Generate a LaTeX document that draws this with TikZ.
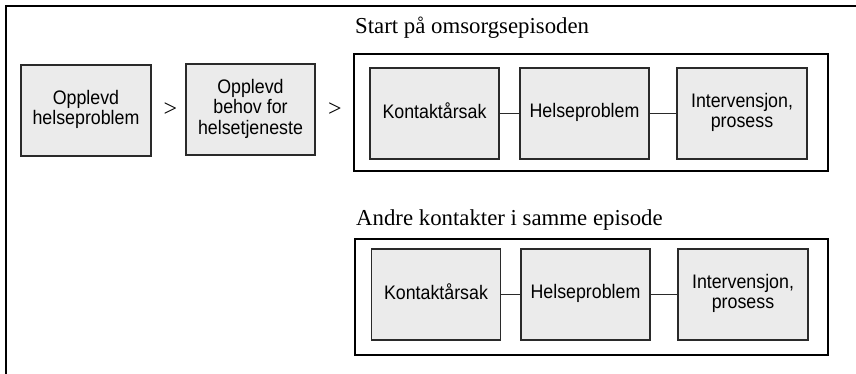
\documentclass[tikz,border=0pt]{standalone}
\usepackage{fontspec}
\usepackage{graphicx}
\setmainfont{Liberation Serif}
\newfontfamily\boxfont{Liberation Sans}
\definecolor{boxfill}{HTML}{EBEBEB}
\definecolor{boxline}{HTML}{2A2A2A}
\newcommand{\bxt}[1]{\scalebox{1}[1.1]{\begin{tabular}{@{}c@{}}#1\end{tabular}}}
\tikzset{
  gbox/.style={draw=boxline, line width=1.6pt, fill=boxfill, minimum width=#1, minimum height=91pt,
    inner sep=0pt, align=center, font=\boxfont\fontsize{17.8}{18.6}\selectfont},
  gbox/.default=129pt,
  outerbox/.style={draw=black, line width=1.3pt, fill=none, inner sep=0pt},
  title/.style={anchor=base west, inner sep=0pt, font=\fontsize{22.8}{26}\selectfont},
  gt/.style={inner sep=0pt, font=\fontsize{24}{26}\selectfont},
  link/.style={draw=boxline, line width=1.5pt},
}
\begin{document}
\begin{tikzpicture}[x=1pt,y=-1pt]
\useasboundingbox (0,0) rectangle (856,374);
% page frame
\draw[line width=2pt] (6,380) -- (6,6) -- (862,6);
% left chain
\node[gbox=130pt] (b1) at (86,110.5) {\bxt{Opplevd\\helseproblem}};
\node[gbox] (b2) at (250.5,109.5) {\bxt{Opplevd\\behov for\\helsetjeneste}};
\node[gt] (g1) at (170.5,110) {>};
\node[gt] (g2) at (335,110) {>};
% first episode
\node[title] (t1) at (355,34) {Start på omsorgsepisoden};
\node[outerbox, minimum width=474pt, minimum height=117pt] (o1) at (591,112.5) {};
\node[gbox] (k1) at (434.5,113.5) {\bxt{Kontaktårsak}};
\node[gbox] (h1) at (584.5,113.5) {\bxt{Helseproblem}};
\node[gbox=130pt] (i1) at (742,113.5) {\bxt{Intervensjon,\\prosess}};
\draw[link] (k1) -- (h1);
\draw[link] (h1) -- (i1);
% second episode
\node[title] (t2) at (356,225) {Andre kontakter i samme episode};
\node[outerbox, minimum width=473pt, minimum height=116pt] (o2) at (591.5,297) {};
\node[gbox] (k2) at (436,294.5) {\bxt{Kontaktårsak}};
\node[gbox] (h2) at (585.5,294.5) {\bxt{Helseproblem}};
\node[gbox=130pt] (i2) at (743,294.5) {\bxt{Intervensjon,\\prosess}};
\draw[link] (k2) -- (h2);
\draw[link] (h2) -- (i2);
\end{tikzpicture}
\end{document}
